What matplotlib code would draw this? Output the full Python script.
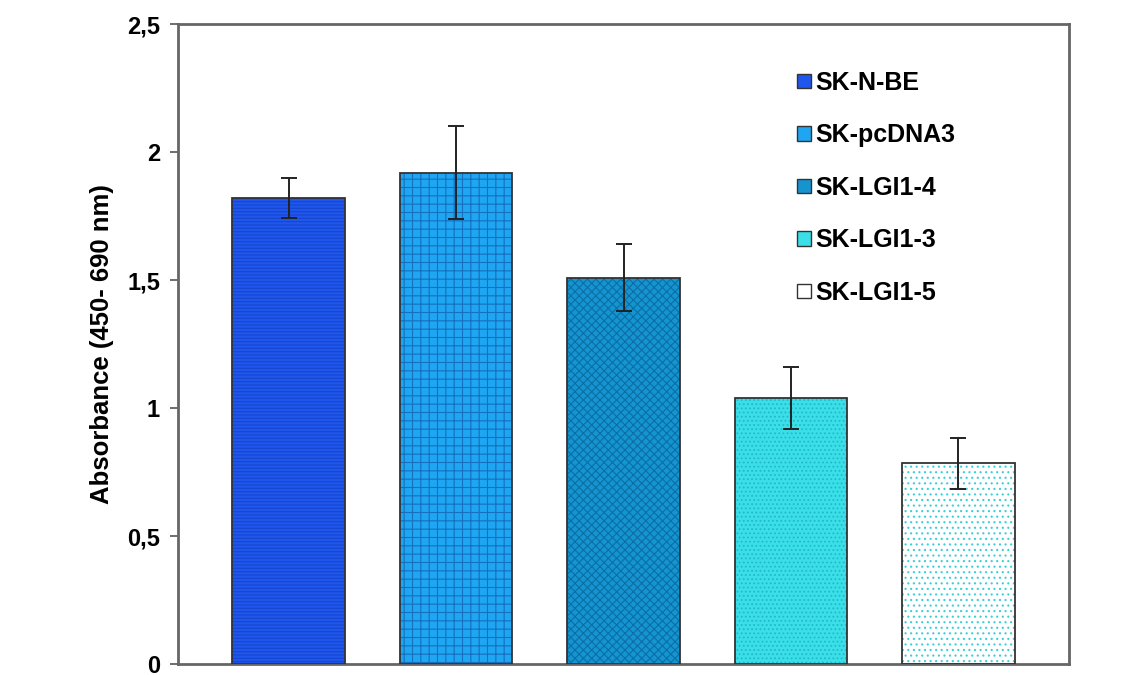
import matplotlib.pyplot as plt
from matplotlib.patches import Patch
import numpy as np

# values
groups = ["SK-N-BE", "SK-pcDNA3", "SK-LGI1-4", "SK-LGI1-3", "SK-LGI1-5"]
absorbance = [1.82, 1.92, 1.51, 1.04, 0.785]
errors = [0.078, 0.182, 0.13, 0.122, 0.10]
yticks = [0, 0.5, 1, 1.5, 2, 2.5]
ytick_labels = ["0", "0,5", "1", "1,5", "2", "2,5"]

face_colors = ["#1f56ee", "#1ea6f2", "#1495d0", "#3adfe8", "#ffffff"]
hatch_colors = ["#1846cc", "#1670be", "#0c6ea6", "#22b9cc", "#3ccfd8"]
hatches = ["-----", "++", "xxxx", "....", "..."]

plt.rcParams["font.family"] = ["Liberation Sans", "DejaVu Sans"]
plt.rcParams["font.weight"] = "bold"
plt.rcParams["hatch.linewidth"] = 0.8

fig = plt.figure(figsize=(11.45, 6.75), dpi=100)
ax = fig.add_axes([0.1555, 0.016, 0.7781, 0.9484])

x = np.arange(len(groups))
width = 0.67

# fill + hatch first (hatch takes the edge colour), then the dark outline
for i in range(len(groups)):
    ax.bar(x[i], absorbance[i], width, color=face_colors[i],
           edgecolor=hatch_colors[i], hatch=hatches[i], linewidth=0, zorder=2)
ax.bar(x, absorbance, width, fill=False, edgecolor="#333333",
       linewidth=1.3, zorder=3)

ax.errorbar(x, absorbance, yerr=errors, fmt="none", ecolor="#222222",
            elinewidth=1.4, capsize=6, capthick=1.4, zorder=4)

ax.set_xlim(-0.66, 4.66)
ax.set_ylim(0, 2.5)
ax.set_xticks([])
ax.set_yticks(yticks)
ax.set_yticklabels(ytick_labels)
ax.tick_params(axis="y", direction="out", length=6, width=1.2,
               color="#555555", labelsize=17, pad=7)

for side in ["left", "right", "top", "bottom"]:
    ax.spines[side].set_color("#666666")
    ax.spines[side].set_linewidth(2)

ax.set_ylabel("Absorbance (450- 690 nm)", fontsize=18.5, fontweight="bold")
ax.yaxis.set_label_coords(-0.072, 0.5)

handles = [Patch(facecolor=face_colors[i], edgecolor="#333333", linewidth=1)
           for i in range(len(groups))]
ax.legend(handles, groups, loc="upper left", bbox_to_anchor=(0.6947, 0.927),
          frameon=False, fontsize=18, borderpad=0, borderaxespad=0,
          handlelength=0.56, handleheight=0.52, handletextpad=0.16,
          labelspacing=1.14)

fig.savefig("out.png", dpi=100)
